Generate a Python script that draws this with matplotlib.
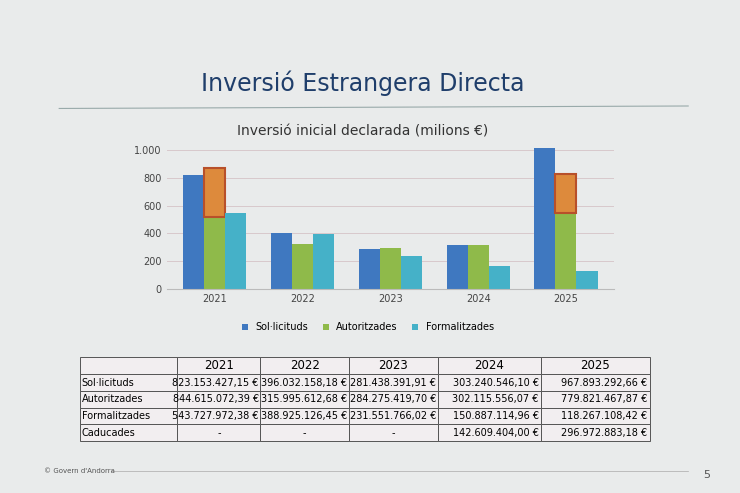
import matplotlib
matplotlib.use("Agg")
import matplotlib.pyplot as plt
import numpy as np

years = ["2021", "2022", "2023", "2024", "2025"]
solicituds = [823, 400, 290, 318, 1015]
autoritzades = [515, 320, 295, 318, 545]
autoritzades_extra = [355, 0, 0, 0, 280]
formalitzades = [545, 395, 240, 165, 130]

row_labels = ["Sol·licituds", "Autoritzades", "Formalitzades", "Caducades"]
table_vals = [
    ["823.153.427,15 €", "396.032.158,18 €", "281.438.391,91 €", "303.240.546,10 €", "967.893.292,66 €"],
    ["844.615.072,39 €", "315.995.612,68 €", "284.275.419,70 €", "302.115.556,07 €", "779.821.467,87 €"],
    ["543.727.972,38 €", "388.925.126,45 €", "231.551.766,02 €", "150.887.114,96 €", "118.267.108,42 €"],
    ["-", "-", "-", "142.609.404,00 €", "296.972.883,18 €"],
]

c_blue, c_green, c_cyan, c_orange = "#3f78c0", "#8fba4a", "#45b1c8", "#dd8a3c"

fig = plt.figure(figsize=(7.4, 4.93), dpi=100)
fig.patch.set_facecolor("#e9ebeb")

fig.text(0.49, 0.815, "Inversió Estrangera Directa", ha="center", fontsize=17, color="#1f3e6b")
fig.add_artist(plt.Line2D([0.08, 0.93], [0.78, 0.785], color="#9aa", lw=0.8))
fig.text(0.49, 0.725, "Inversió inicial declarada (milions €)", ha="center", fontsize=10, color="#333")

ax = fig.add_axes([0.225, 0.414, 0.605, 0.296])
ax.set_facecolor("#e9ebeb")
x = np.arange(len(years))
w = 0.24
ax.bar(x - w, solicituds, w, color=c_blue, label="Sol·licituds")
ax.bar(x, autoritzades, w, color=c_green, label="Autoritzades")
idx = [i for i, v in enumerate(autoritzades_extra) if v > 0]
ax.bar(x[idx], [autoritzades_extra[i] for i in idx], w,
       bottom=[autoritzades[i] for i in idx], color=c_orange, edgecolor="#b8502a", linewidth=1.5)
ax.bar(x + w, formalitzades, w, color=c_cyan, label="Formalitzades")
ax.set_xticks(x)
ax.set_xticklabels(years, fontsize=7, color="#444")
ax.set_ylim(0, 1050)
ax.set_yticks([0, 200, 400, 600, 800, 1000])
ax.set_yticklabels(["0", "200", "400", "600", "800", "1.000"], fontsize=7, color="#444")
ax.yaxis.grid(True, color="#d8c8cc", lw=0.7)
ax.set_axisbelow(True)
for s in ["top", "right", "left"]:
    ax.spines[s].set_visible(False)
ax.spines["bottom"].set_color("#bbb")
ax.tick_params(length=0)
ax.set_xlim(-0.55, 4.55)
ax.legend(loc="upper center", bbox_to_anchor=(0.45, -0.17), ncol=3, frameon=False,
          fontsize=7, handlelength=0.6, handleheight=0.6, columnspacing=1.5)

tax = fig.add_axes([0.108, 0.105, 0.77, 0.17])
tax.axis("off")
cell_text = [[""] + years] + [[r] + v for r, v in zip(row_labels, table_vals)]
tbl = tax.table(cellText=cell_text, bbox=[0, 0, 1, 1],
                colWidths=[0.17, 0.145, 0.155, 0.155, 0.18, 0.19])
tbl.auto_set_font_size(False)
for (r, c), cell in tbl.get_celld().items():
    cell.set_facecolor("#f2eef0")
    cell.set_edgecolor("#555")
    cell.set_linewidth(0.7)
    cell.get_text().set_fontsize(8.5 if r == 0 else 7)
    if c == 0:
        cell.get_text().set_ha("left")
        cell.PAD = 0.02
    elif r > 0:
        cell.get_text().set_ha("right")
        cell.PAD = 0.02
        if cell_text[r][c] == "-":
            cell.get_text().set_ha("center")
    else:
        cell.get_text().set_ha("center")

fig.text(0.06, 0.04, "© Govern d'Andorra", fontsize=5, color="#555")
fig.add_artist(plt.Line2D([0.15, 0.93], [0.045, 0.045], color="#aaa", lw=0.5))
fig.text(0.95, 0.03, "5", fontsize=8, color="#555")

fig.savefig("out.png", dpi=100, facecolor=fig.get_facecolor())
